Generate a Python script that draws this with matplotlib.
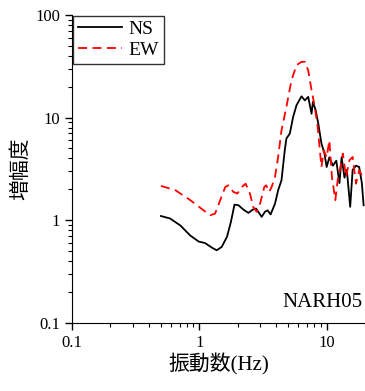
import matplotlib.pyplot as plt

plt.rcParams['font.family'] = ['Liberation Serif', 'Noto Sans CJK JP']

# ── DATA ──────────────────────────────────────────────────
ns_freq = [0.50, 0.59, 0.71, 0.85, 0.99, 1.11, 1.26, 1.37, 1.50, 1.65, 1.77, 1.89,
           2.03, 2.22, 2.43, 2.63, 2.79, 2.90, 3.09, 3.28, 3.44, 3.63, 3.93, 4.16,
           4.42, 4.69, 4.83, 5.14, 5.46, 5.80, 6.35, 6.74, 7.16, 7.61, 7.80, 8.2,
           8.6, 9.1, 9.6, 10.0, 10.5, 11.2, 11.9, 12.6, 13.1, 13.8, 14.4, 15.3,
           16.0, 17.0, 18.0, 18.9, 19.5]
ns_amp = [1.10, 1.04, 0.89, 0.71, 0.62, 0.60, 0.54, 0.51, 0.55, 0.69, 0.96, 1.42,
          1.40, 1.27, 1.18, 1.27, 1.30, 1.21, 1.08, 1.21, 1.25, 1.14, 1.45, 1.96,
          2.45, 4.8, 6.25, 7.0, 10.2, 13.2, 16.1, 14.7, 15.9, 10.9, 14.2, 11.8,
          8.7, 5.6, 4.5, 3.3, 4.1, 3.4, 3.8, 2.3, 4.1, 2.6, 3.1, 1.35,
          3.1, 3.4, 3.3, 2.3, 1.4]

ew_freq = [0.50, 0.65, 0.85, 1.08, 1.22, 1.33, 1.46, 1.60, 1.69, 1.85, 1.99, 2.16,
           2.31, 2.50, 2.65, 2.82, 3.0, 3.24, 3.35, 3.54, 3.70, 3.93, 4.16, 4.42,
           4.83, 5.29, 5.80, 6.35, 6.74, 7.16, 7.61, 8.07, 8.5, 9.1, 9.5, 10.0,
           10.5, 11.0, 11.7, 12.2, 13.0, 13.4, 14.2, 15.1, 16.0, 17.0, 18.0, 19.2]
ew_amp = [2.16, 1.96, 1.57, 1.25, 1.12, 1.16, 1.57, 2.11, 2.19, 1.89, 1.82, 2.11,
          2.27, 1.82, 1.35, 1.21, 1.45, 2.11, 2.19, 1.89, 2.11, 2.64, 4.13, 7.5,
          12.7, 23.0, 32.4, 34.9, 34.9, 28.8, 18.5, 12.7, 8.1, 3.3, 4.8, 4.1,
          6.0, 2.64, 1.57, 2.45, 3.57, 4.46, 2.64, 3.84, 4.13, 2.27, 3.07, 2.64]

station = 'NARH05'

# ── PLOT ──────────────────────────────────────────────────
fig = plt.figure(figsize=(3.65, 3.91), dpi=100)
ax = fig.add_axes([0.197, 0.174, 0.803, 0.788])

ax.plot(ns_freq, ns_amp, color='black', linewidth=1.3, label='NS')
ax.plot(ew_freq, ew_amp, color='red', linewidth=1.3, linestyle=(0, (5, 3)), label='EW')

ax.set_xscale('log')
ax.set_yscale('log')
ax.set_xlim(0.1, 20)
ax.set_ylim(0.1, 100)
ax.set_xticks([0.1, 1, 10])
ax.set_xticklabels(['0.1', '1', '10'])
ax.set_yticks([0.1, 1, 10, 100])
ax.set_yticklabels(['0.1', '1', '10', '100'])

ax.spines['top'].set_visible(False)
ax.spines['right'].set_visible(False)
ax.tick_params(which='major', direction='out', length=5, width=1, labelsize=12)
ax.tick_params(which='minor', direction='out', length=3, width=0.8)

ax.set_xlabel('振動数(Hz)', fontsize=15, labelpad=2)
ax.set_ylabel('増幅度', fontsize=15, labelpad=3)

ax.text(0.99, 0.035, station, transform=ax.transAxes, ha='right', va='bottom', fontsize=15)

leg = ax.legend(loc='upper left', fontsize=14, frameon=True, fancybox=False,
                borderaxespad=0.05, handlelength=2.3, handletextpad=0.3,
                labelspacing=0.15, borderpad=0.25)
leg.get_frame().set_edgecolor('black')
leg.get_frame().set_linewidth(1)

plt.savefig('out.png', dpi=100)
